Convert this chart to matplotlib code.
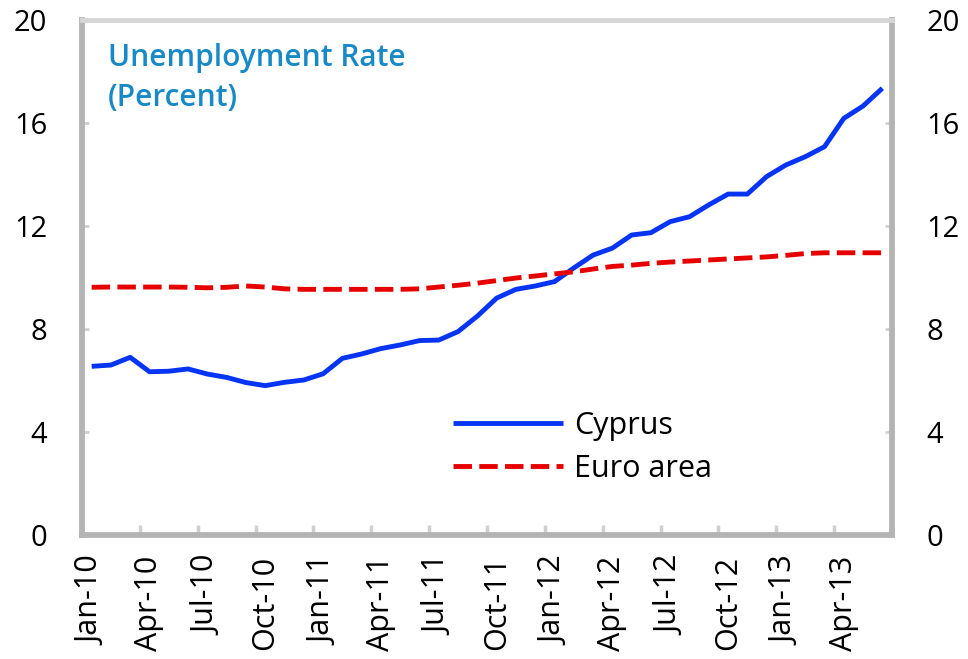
import matplotlib
matplotlib.use("Agg")
import matplotlib.pyplot as plt
import numpy as np
import pandas as pd

plt.rcParams['font.family'] = ['Open Sans', 'DejaVu Sans']

months = list(pd.date_range("2010-01-01", periods=42, freq="MS").strftime("%b-%y"))
cyprus = [6.55, 6.6, 6.9, 6.34, 6.36, 6.45, 6.25, 6.12, 5.92, 5.8, 5.93, 6.02,
          6.26, 6.86, 7.03, 7.24, 7.38, 7.55, 7.57, 7.9, 8.5, 9.2, 9.54, 9.67,
          9.84, 10.37, 10.87, 11.14, 11.65, 11.74, 12.17, 12.36, 12.82, 13.24,
          13.24, 13.92, 14.37, 14.69, 15.08, 16.18, 16.66, 17.35]
euro = [9.62, 9.63, 9.63, 9.63, 9.63, 9.62, 9.6, 9.62, 9.67, 9.63, 9.56, 9.54,
        9.54, 9.54, 9.54, 9.54, 9.54, 9.56, 9.63, 9.7, 9.78, 9.88, 9.98, 10.06,
        10.14, 10.22, 10.33, 10.43, 10.48, 10.55, 10.6, 10.64, 10.68, 10.72,
        10.76, 10.8, 10.86, 10.93, 10.96, 10.96, 10.96, 10.96]
yticks = [0, 4, 8, 12, 16, 20]

fig = plt.figure(figsize=(9.68, 6.59), dpi=100)
ax = fig.add_axes([82/968, 1-535/659, 810/968, 515/659])

x = np.arange(len(months))
ax.plot(x, cyprus, color="#0634F5", lw=3.5, label="Cyprus", solid_capstyle="butt")
ax.plot(x, euro, color="#E60000", lw=3.5, dashes=(3.8, 1.5), label="Euro area",
        dash_capstyle="butt")

ax.set_xlim(-0.5, len(months) - 0.5)
ax.set_ylim(0, 20)
ax.set_yticks(yticks)
ax.set_yticklabels([str(v) for v in yticks])

ax.set_xticks(x[::3])
ax.set_xticklabels(months[::3], rotation=90, va="top", ha="center")
ax.set_xticks(np.arange(-0.5, len(months), 3)[1:], minor=True)

for side in ["left", "bottom", "right"]:
    ax.spines[side].set_color("#b4b4b4")
    ax.spines[side].set_linewidth(4.2)
ax.spines["top"].set_color("#d6d6d6")
ax.spines["top"].set_linewidth(3.5)

ax.tick_params(axis="y", which="major", direction="in", length=5, width=2,
               color="#d0d0d0", labelsize=21, pad=25, right=True, labelright=True)
ax.tick_params(axis="x", which="major", length=0, labelsize=22, pad=15)
ax.tick_params(axis="x", which="minor", direction="in", length=7, width=2.5,
               color="#d0d0d0")

ax.text(0.032, 0.927, "Unemployment Rate", transform=ax.transAxes, fontsize=21.5,
        fontweight="semibold", color="#1789C6", va="center", ha="left")
ax.text(0.032, 0.849, "(Percent)", transform=ax.transAxes, fontsize=21.5,
        fontweight="semibold", color="#1789C6", va="center", ha="left")

ax.legend(loc="upper left", bbox_to_anchor=(0.443, 0.2645), frameon=False,
          fontsize=22, handlelength=3.6, handletextpad=0.35, labelspacing=0.42,
          borderaxespad=0)

fig.savefig("out.png", dpi=100)
